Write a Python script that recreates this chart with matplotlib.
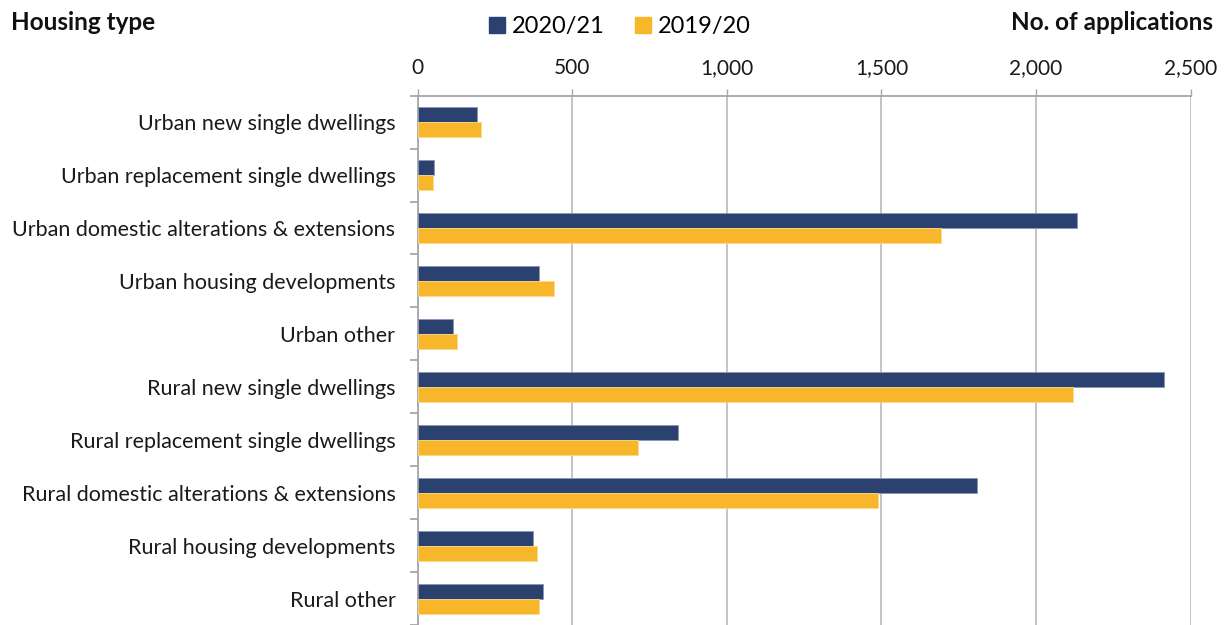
import numpy as np
import matplotlib
matplotlib.use("Agg")
import matplotlib.pyplot as plt
from matplotlib.ticker import FuncFormatter
from matplotlib.patches import Patch

plt.rcParams['font.family'] = ['Lato', 'DejaVu Sans']

# housing types, top to bottom
categories = ['Urban new single dwellings', 'Urban replacement single dwellings',
              'Urban domestic alterations & extensions', 'Urban housing developments',
              'Urban other', 'Rural new single dwellings', 'Rural replacement single dwellings',
              'Rural domestic alterations & extensions', 'Rural housing developments',
              'Rural other']
apps_2021 = [191, 54, 2133, 393, 115, 2415, 842, 1809, 374, 406]
apps_2020 = [205, 50, 1693, 442, 128, 2118, 712, 1489, 387, 391]
xticks = [0, 500, 1000, 1500, 2000, 2500]

navy = '#2B4170'
gold = '#F8B62B'
grid_col = '#BFBFBF'

fig = plt.figure(figsize=(12.27, 6.25), dpi=100)
ax = fig.add_axes([0.3404, 0.0, 0.6300, 0.8469])

y = np.arange(len(categories))
h = 0.283
ax.barh(y - h/2, apps_2021, height=h, color=navy, edgecolor='#8A97B3', linewidth=0.6, zorder=3)
ax.barh(y + h/2, apps_2020, height=h, color=gold, edgecolor='#FBD98A', linewidth=0.6, zorder=3)

ax.set_ylim(len(categories) - 0.5, -0.5)
ax.set_xlim(0, 2500)
ax.set_xticks(xticks)
ax.xaxis.set_major_formatter(FuncFormatter(lambda v, p: '{:,.0f}'.format(v)))
ax.xaxis.tick_top()
ax.tick_params(axis='x', length=5, width=1, color='#A6A6A6', pad=8, labelsize=15, labelcolor='#1a1a1a')
ax.grid(axis='x', color=grid_col, linewidth=1.3, zorder=0)

# category labels between boundary ticks
ax.set_yticks(y)
ax.set_yticklabels(categories)
ax.set_yticks(np.arange(len(categories) + 1) - 0.5, minor=True)
ax.tick_params(axis='y', which='major', length=0, pad=16, labelsize=15.5, labelcolor='#1a1a1a')
ax.tick_params(axis='y', which='minor', length=6, width=1.3, color='#A6A6A6')

for s in ['right', 'bottom']:
    ax.spines[s].set_visible(False)
ax.spines['top'].set_color('#A6A6A6')
ax.spines['top'].set_linewidth(1.3)
ax.spines['left'].set_color('#A6A6A6')
ax.spines['left'].set_linewidth(1.3)

fig.text(11/1227, 1 - 23/625, 'Housing type', fontsize=17.5, fontweight='bold',
         ha='left', va='center', color='#111111')
fig.text(1213/1227, 1 - 23/625, 'No. of applications', fontsize=17.5, fontweight='bold',
         ha='right', va='center', color='#111111')

handles = [Patch(color=navy, label='2020/21'), Patch(color=gold, label='2019/20')]
fig.legend(handles=handles, loc='center', bbox_to_anchor=(620/1227, 1 - 27/625), ncol=2,
           frameon=False, fontsize=17, handlelength=0.65, handleheight=0.65,
           handletextpad=0.3, columnspacing=1.3, borderpad=0)

fig.savefig('out.png', dpi=100)
